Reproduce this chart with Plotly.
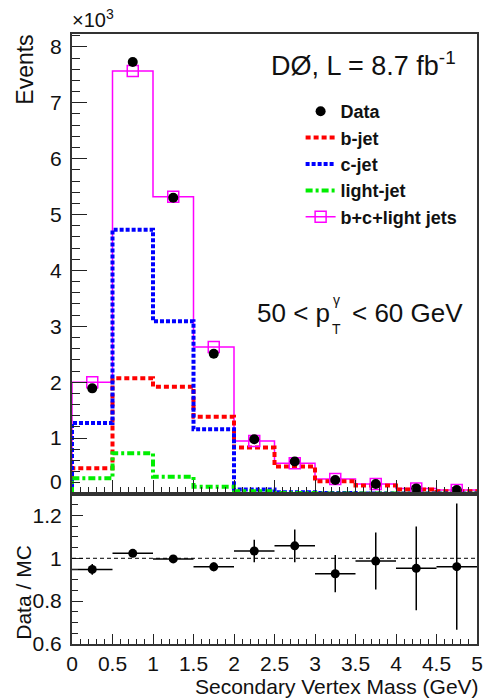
import plotly.graph_objects as go

# ---------------- data (values in units of 10^3 events) ----------------
bin_edges = [0.0, 0.5, 1.0, 1.5, 2.0, 2.5, 3.0, 3.5, 4.0, 4.5, 5.0]
bin_centers = [0.25, 0.75, 1.25, 1.75, 2.25, 2.75, 3.25, 3.75, 4.25, 4.75]

data_vals = [1.89, 7.73, 5.30, 2.51, 0.98, 0.58, 0.25, 0.18, 0.10, 0.07]
bjet_vals = [0.46, 2.07, 1.92, 1.38, 0.83, 0.49, 0.23, 0.15, 0.08, 0.05]
cjet_vals = [1.27, 4.73, 3.09, 1.16, 0.08, 0.03, 0.02, 0.01, 0.01, 0.01]
light_vals = [0.28, 0.73, 0.31, 0.13, 0.05, 0.02, 0.01, 0.01, 0.005, 0.005]
total_vals = [2.00, 7.57, 5.32, 2.63, 0.95, 0.55, 0.27, 0.18, 0.10, 0.07]

ratio_vals = [0.948, 1.023, 0.997, 0.960, 1.034, 1.058, 0.928, 0.987, 0.953, 0.961]
ratio_errs = [0.025, 0.012, 0.012, 0.020, 0.053, 0.076, 0.087, 0.133, 0.195, 0.295]
half_width = [0.25] * 10

# ---------------- geometry helpers ----------------
W, H = 491, 699
ML, MR, MT, MB = 72, 8, 34, 55
PW, PH = W - ML - MR, H - MT - MB
SPLIT = 150 / PH  # ratio-panel share of plot height


def px(x):
    return (x - ML) / PW


def py(y):
    return (H - MB - y) / PH


FONT = "Liberation Sans, Arial, sans-serif"


def step_xy(vals):
    xs = [bin_edges[0]]
    ys = [0.0]
    for i, v in enumerate(vals):
        xs.append(bin_edges[i])
        ys.append(v)
    xs.append(bin_edges[-1])
    ys.append(vals[-1])
    xs.append(bin_edges[-1])
    ys.append(0.0)
    return xs, ys


fig = go.Figure()

# total MC (magenta) step line
tx, ty = step_xy(total_vals)
fig.add_trace(go.Scatter(x=tx, y=ty, mode="lines", line=dict(color="#ff00ff", width=1.5, shape="hv"),
                         showlegend=False, legendgroup="tot", xaxis="x", yaxis="y", hoverinfo="skip"))

# components
for vals, color, dash, name, grp, rank in [
    (bjet_vals, "#ff0000", "5px,3px", "b-jet", "b", 2),
    (cjet_vals, "#0000ff", "4px,2px", "c-jet", "c", 3),
    (light_vals, "#00ee00", "7px,3px,3px,3px", "light-jet", "l", 4),
]:
    sx, sy = step_xy(vals)
    fig.add_trace(go.Scatter(x=sx, y=sy, mode="lines", name=name, legendgroup=grp, legendrank=rank,
                             line=dict(color=color, width=4, dash=dash, shape="hv"),
                             xaxis="x", yaxis="y"))

# total MC markers at bin centres (with legend showing line + square)
mx, my = [], []
for c, v in zip(bin_centers, total_vals):
    mx += [c, None]
    my += [v, None]
fig.add_trace(go.Scatter(x=mx, y=my, mode="lines+markers", name="b+c+light jets", legendgroup="tot",
                         legendrank=5, connectgaps=False,
                         line=dict(color="#ff00ff", width=1.5),
                         marker=dict(symbol="square-open", size=11, color="#ff00ff", line=dict(width=1.5)),
                         xaxis="x", yaxis="y"))

# data points (top)
fig.add_trace(go.Scatter(x=bin_centers, y=data_vals, mode="markers", name="Data", legendgroup="d",
                         legendrank=1, marker=dict(color="black", size=10),
                         xaxis="x", yaxis="y"))

# ratio panel
fig.add_trace(go.Scatter(x=bin_centers, y=ratio_vals, mode="markers", showlegend=False,
                         marker=dict(color="black", size=9),
                         error_y=dict(type="data", array=ratio_errs, color="black", thickness=1.5, width=0),
                         error_x=dict(type="data", array=half_width, color="black", thickness=1.5, width=0),
                         xaxis="x2", yaxis="y2"))

axis_common = dict(showline=True, linecolor="#333333", linewidth=2, mirror=True,
                   ticks="inside", tickcolor="#222222", tickwidth=1,
                   showgrid=False, zeroline=False,
                   tickfont=dict(family=FONT, size=21, color="#111111"))

fig.update_layout(
    width=W, height=H,
    margin=dict(l=ML, r=MR, t=MT, b=MB),
    paper_bgcolor="white", plot_bgcolor="white",
    font=dict(family=FONT, color="#111111"),
    xaxis=dict(domain=[0, 1], range=[0, 5], anchor="y", showticklabels=False,
               dtick=0.5, tick0=0, ticklen=14,
               minor=dict(dtick=0.1, ticklen=7, ticks="inside", tickcolor="#222222"),
               **axis_common),
    yaxis=dict(domain=[SPLIT, 1], range=[0, 8.23], anchor="x",
               tickvals=[1, 2, 3, 4, 5, 6, 7, 8], ticklen=15, ticklabelstandoff=4,
               minor=dict(dtick=0.2, tick0=0, ticklen=8, ticks="inside", tickcolor="#222222"),
               **axis_common),
    xaxis2=dict(domain=[0, 1], range=[0, 5], anchor="y2", dtick=0.5, tick0=0, ticklen=10,
                ticklabelstandoff=0,
                minor=dict(dtick=0.1, ticklen=5, ticks="inside", tickcolor="#222222"),
                **axis_common),
    yaxis2=dict(domain=[0, SPLIT], range=[0.6, 1.3], anchor="x2", dtick=0.2, tick0=0.6, ticklen=11,
                ticklabelstandoff=4,
                minor=dict(dtick=0.05, tick0=0.6, ticklen=6, ticks="inside", tickcolor="#222222"),
                **axis_common),
    legend=dict(x=px(304), y=py(93), xanchor="left", yanchor="top",
                font=dict(family=FONT, size=18, color="#111111", weight="bold"),
                bgcolor="rgba(0,0,0,0)", tracegroupgap=0, itemwidth=30),
    showlegend=True,
)

fig.add_shape(type="line", xref="x2", yref="y2", x0=0, x1=5, y0=1, y1=1,
              line=dict(color="black", width=1, dash="4px,3px"))

ann = []
ann.append(dict(text="Events", x=px(24), y=py(70), textangle=-90, font=dict(size=23)))
ann.append(dict(text="Data / MC", x=px(22), y=py(592), textangle=-90, font=dict(size=21)))
ann.append(dict(text="Secondary Vertex Mass (GeV)", x=px(487), y=py(686), xanchor="right", font=dict(size=21)))
ann.append(dict(text="×10<sup>3</sup>", x=px(70), y=py(18), xanchor="left", font=dict(size=20)))
ann.append(dict(text="0", x=px(64), y=py(481), xanchor="right", font=dict(size=21)))
ann.append(dict(text="DØ, L = 8.7 fb<sup>-1</sup>", x=px(272), y=py(64), xanchor="left", font=dict(size=27)))
ann.append(dict(text="50 < p", x=px(336), y=py(313), xanchor="right", font=dict(size=26)))
ann.append(dict(text="γ", x=px(340), y=py(300), font=dict(size=14)))
ann.append(dict(text="T", x=px(340), y=py(329), font=dict(size=14)))
ann.append(dict(text="< 60 GeV", x=px(354), y=py(313), xanchor="left", font=dict(size=26)))

for a in ann:
    a.setdefault("xanchor", "center")
    a.update(xref="paper", yref="paper", yanchor="middle", showarrow=False)
    a["font"] = dict(family=FONT, color="#111111", **a["font"])
    fig.add_annotation(**a)

fig.write_html("out.html")
